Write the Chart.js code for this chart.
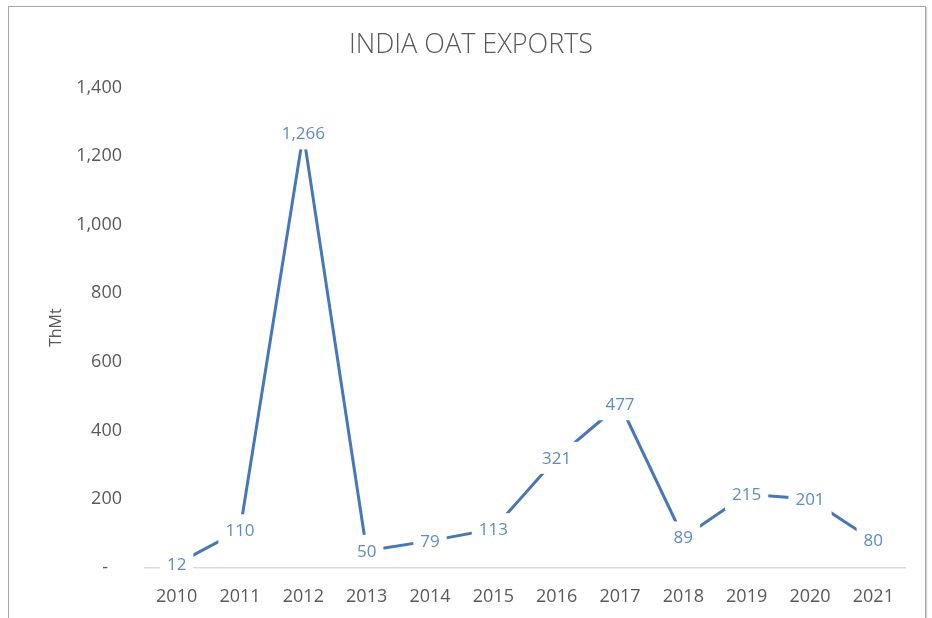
<!DOCTYPE html>
<html>
<head>
<meta charset="utf-8">
<script src="https://cdn.jsdelivr.net/npm/chart.js@4/dist/chart.umd.min.js"></script>
<style>
  html, body { margin: 0; padding: 0; background: #ffffff; }
  #wrap { position: relative; width: 932px; height: 618px; overflow: hidden; }
  #frame { position: absolute; left: 8px; top: 6px; width: 916px; height: 640px;
           border: 1px solid #a6a6a6; box-shadow: 1px 1px 1px #d0d0d0; pointer-events: none; }
  canvas { position: absolute; left: 0; top: 0; }
</style>
</head>
<body>
<div id="wrap">
  <canvas id="c" width="932" height="618"></canvas>
  <div id="frame"></div>
</div>
<script>
const years = ['2010','2011','2012','2013','2014','2015','2016','2017','2018','2019','2020','2021'];
const exports = [12, 110, 1266, 50, 79, 113, 321, 477, 89, 215, 201, 80];
const chartTitle = 'INDIA OAT EXPORTS';
const yAxisTitle = 'ThMt';
const yMin = 0, yMax = 1400, yStep = 200;

const FONT = "'Open Sans', 'Liberation Sans', sans-serif";
const LABEL_COLOR = '#5b8bcb';
const LINE_COLOR = '#4677b9';

const labelPlugin = {
  id: 'pointLabels',
  afterDatasetsDraw(chart) {
    const ctx = chart.ctx;
    const meta = chart.getDatasetMeta(0);
    const data = chart.data.datasets[0].data;
    ctx.save();
    ctx.font = "17px " + FONT;
    ctx.textAlign = 'center';
    ctx.textBaseline = 'middle';
    meta.data.forEach((pt, i) => {
      const txt = data[i].toLocaleString('en-US');
      const w = ctx.measureText(txt).width;
      ctx.fillStyle = '#ffffff';
      ctx.fillRect(pt.x - w / 2 - 7, pt.y - 16, w + 14, 32);
      ctx.fillStyle = LABEL_COLOR;
      ctx.fillText(txt, pt.x, pt.y + 1);
    });
    ctx.restore();
  }
};

new Chart(document.getElementById('c'), {
  type: 'line',
  data: {
    labels: years,
    datasets: [{
      data: exports,
      borderColor: LINE_COLOR,
      borderWidth: 3,
      pointRadius: 0,
      pointHoverRadius: 0,
      tension: 0,
      fill: false
    }]
  },
  options: {
    responsive: false,
    animation: false,
    events: [],
    layout: { padding: { left: 10, right: 0, top: 0, bottom: 0 } },
    plugins: {
      legend: { display: false },
      tooltip: { enabled: false },
      title: {
        display: true,
        text: chartTitle,
        color: '#595959',
        font: { family: FONT, size: 27, weight: 300 },
        padding: { top: 29, bottom: 26 }
      }
    },
    scales: {
      x: {
        offset: true,
        grid: { display: false, drawTicks: false },
        border: { display: true, color: '#d9d9d9', width: 1.5 },
        ticks: { color: '#595959', font: { family: FONT, size: 18 }, padding: 18, maxRotation: 0 },
        afterFit(s) { s.height = 50; }
      },
      y: {
        min: yMin, max: yMax,
        grid: { display: false, drawTicks: false },
        border: { display: false },
        ticks: {
          stepSize: yStep,
          color: '#595959',
          font: { family: FONT, size: 18 },
          padding: 23,
          callback: (v) => v === 0 ? '-   ' : v.toLocaleString('en-US')
        },
        title: {
          display: true,
          text: yAxisTitle,
          color: '#595959',
          font: { family: FONT, size: 16 },
          padding: { top: 37, bottom: 0 }
        },
        afterFit(s) { s.width = 135; }
      },
      yRight: {
        position: 'right',
        min: yMin, max: yMax,
        grid: { display: false, drawTicks: false },
        border: { display: false },
        ticks: { display: false },
        afterFit(s) { s.width = 27; }
      }
    }
  },
  plugins: [labelPlugin]
});
</script>
</body>
</html>
